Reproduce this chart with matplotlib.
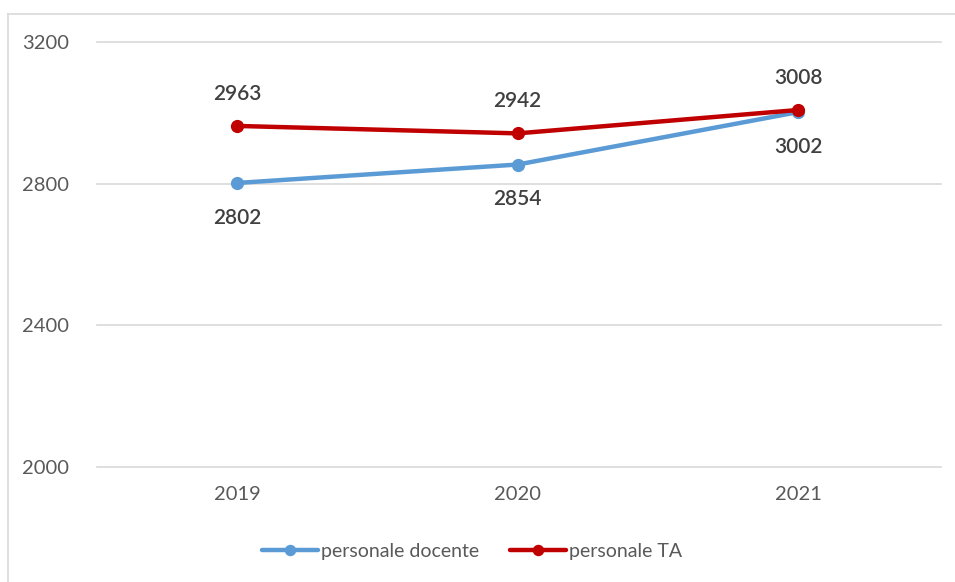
import matplotlib.pyplot as plt
from matplotlib.lines import Line2D

plt.rcParams['font.family'] = ['Lato', 'DejaVu Sans']

anni = ["2019", "2020", "2021"]
docenti = [2802, 2854, 3002]
personale_ta = [2963, 2942, 3008]
yticks = [2000, 2400, 2800, 3200]

blu = "#5B9BD5"
rosso = "#C00000"

fig = plt.figure(figsize=(9.55, 5.82), dpi=100)
ax = fig.add_axes([97 / 955, 1 - 467 / 582, 844 / 955, 425 / 582])

x = range(len(anni))
ax.plot(x, docenti, color=blu, lw=3.2, marker="o", ms=8.5, label="personale docente",
        solid_capstyle="round", zorder=3)
ax.plot(x, personale_ta, color=rosso, lw=3.2, marker="o", ms=8.5, label="personale TA",
        solid_capstyle="round", zorder=4)

# etichette dei valori: docenti sotto, TA sopra
for i, v in enumerate(docenti):
    ax.annotate(str(v), (i, v), xytext=(0, -25), textcoords="offset points",
                ha="center", va="center", fontsize=15, fontweight="semibold",
                color="#404040")
for i, v in enumerate(personale_ta):
    ax.annotate(str(v), (i, v), xytext=(0, 23), textcoords="offset points",
                ha="center", va="center", fontsize=15, fontweight="semibold",
                color="#404040")

ax.set_xlim(-0.5, 2.51)
ax.set_ylim(2000, 3200)
ax.set_yticks(yticks)
ax.set_xticks(list(x))
ax.set_xticklabels(anni)
ax.grid(axis="y", color="#D9D9D9", lw=1.2, clip_on=False)
ax.set_axisbelow(True)
for s in ax.spines.values():
    s.set_visible(False)
ax.tick_params(length=0, labelsize=14.5, colors="#595959")
ax.tick_params(axis="y", pad=20)
ax.tick_params(axis="x", pad=14)

ax.legend(loc="center", bbox_to_anchor=(472 / 955, 1 - 551 / 582),
          bbox_transform=fig.transFigure, ncol=2, frameon=False,
          fontsize=14, labelcolor="#595959", handlelength=2.9,
          handletextpad=0.15, columnspacing=1.6, markerscale=0.85)

# cornice del grafico
fig.add_artist(Line2D([8 / 955, 8 / 955], [0, 1 - 14 / 582], color="#D9D9D9", lw=1.2))
fig.add_artist(Line2D([8 / 955, 1], [1 - 14 / 582, 1 - 14 / 582], color="#D9D9D9", lw=1.2))

fig.savefig("out.png", dpi=100)
